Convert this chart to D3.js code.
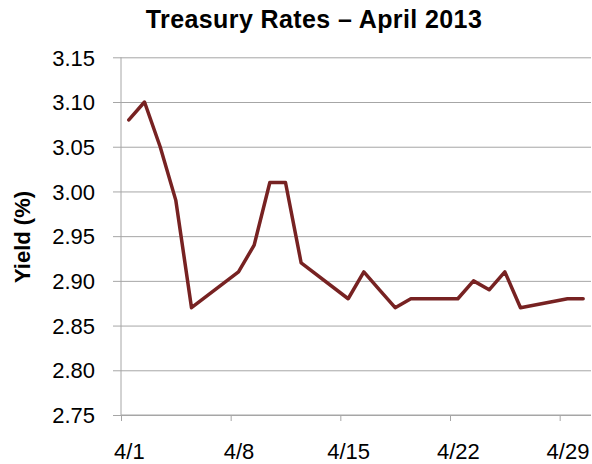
<!DOCTYPE html>
<html>
<head>
<meta charset="utf-8">
<script src="https://cdn.jsdelivr.net/npm/d3@7"></script>
<style>
  body { margin: 0; background: #fff; }
  svg { display: block; }
</style>
</head>
<body>
<div id="chart"></div>
<script>
// April 2013 trading days and yields (%)
let dates = ["2013-04-01", "2013-04-02", "2013-04-03", "2013-04-04", "2013-04-05",
  "2013-04-08", "2013-04-09", "2013-04-10", "2013-04-11", "2013-04-12",
  "2013-04-15", "2013-04-16", "2013-04-17", "2013-04-18", "2013-04-19",
  "2013-04-22", "2013-04-23", "2013-04-24", "2013-04-25", "2013-04-26",
  "2013-04-29", "2013-04-30"];
let yields = [3.08, 3.10, 3.05, 2.99, 2.87,
  2.91, 2.94, 3.01, 3.01, 2.92,
  2.88, 2.91, 2.89, 2.87, 2.88,
  2.88, 2.90, 2.89, 2.91, 2.87,
  2.88, 2.88];
let yTicks = [2.75, 2.80, 2.85, 2.90, 2.95, 3.00, 3.05, 3.10, 3.15];
let xTickDates = ["2013-04-01", "2013-04-08", "2013-04-15", "2013-04-22", "2013-04-29"];

const width = 592, height = 464;
const parse = d3.utcParse("%Y-%m-%d");
const data = dates.map((d, i) => ({ date: parse(d), value: yields[i] }));
const font = "'Liberation Sans', Arial, sans-serif";

const svg = d3.select("#chart").append("svg")
  .attr("width", width)
  .attr("height", height);

// date axis runs 4/1 .. 5/1, each point sits in the middle of its day
const x = d3.scaleUtc()
  .domain([parse("2013-04-01"), parse("2013-05-01")])
  .range([121, 591]);
const y = d3.scaleLinear()
  .domain([2.75, 3.15])
  .range([415, 57.3]);

const halfDay = 12 * 3600 * 1000;
const dayMid = d => x(new Date(d.getTime() + halfDay));
const halfDayPx = dayMid(parse("2013-04-01")) - x(parse("2013-04-01"));

// gridlines with small left ticks
svg.append("g")
  .attr("transform", "translate(121,0)")
  .call(d3.axisLeft(y).tickValues(yTicks).tickSize(8).tickFormat(d3.format(".2f")))
  .call(g => g.select(".domain").remove())
  .call(g => g.selectAll(".tick line").attr("stroke", "#a6a6a6").attr("x1", -8).attr("x2", 470))
  .call(g => g.selectAll(".tick text")
    .attr("x", -26)
    .attr("dy", "0.35em")
    .attr("fill", "#000")
    .style("font-family", font)
    .style("font-size", "22px"));

// y axis line
svg.append("line")
  .attr("x1", 121).attr("x2", 121)
  .attr("y1", y(3.15)).attr("y2", y(2.75))
  .attr("stroke", "#a6a6a6");

// x axis, labels centred on the middle of the day
svg.append("g")
  .attr("transform", `translate(0,${y(2.75)})`)
  .call(d3.axisBottom(x)
    .tickValues(xTickDates.map(parse))
    .tickSize(6)
    .tickFormat(d3.utcFormat("%-m/%-d")))
  .call(g => g.select(".domain").attr("stroke", "#a6a6a6").attr("d", "M121,0H591"))
  .call(g => g.selectAll(".tick line").attr("stroke", "#a6a6a6"))
  .call(g => g.selectAll(".tick text")
    .attr("x", halfDayPx)
    .attr("y", 28)
    .attr("dy", "0.71em")
    .attr("fill", "#000")
    .style("font-family", font)
    .style("font-size", "22px"));

// yield line
const line = d3.line()
  .x(d => dayMid(d.date))
  .y(d => y(d.value));

svg.append("path")
  .datum(data)
  .attr("fill", "none")
  .attr("stroke", "#772222")
  .attr("stroke-width", 3.5)
  .attr("stroke-linejoin", "round")
  .attr("stroke-linecap", "round")
  .attr("d", line);

// title
svg.append("text")
  .attr("x", 314)
  .attr("y", 28)
  .attr("text-anchor", "middle")
  .style("font-family", font)
  .style("font-weight", "bold")
  .style("font-size", "25px")
  .style("letter-spacing", "0.4px")
  .text("Treasury Rates – April 2013");

// y axis title
svg.append("text")
  .attr("transform", "translate(30,237) rotate(-90)")
  .attr("text-anchor", "middle")
  .style("font-family", font)
  .style("font-weight", "bold")
  .style("font-size", "22px")
  .text("Yield (%)");
</script>
</body>
</html>
